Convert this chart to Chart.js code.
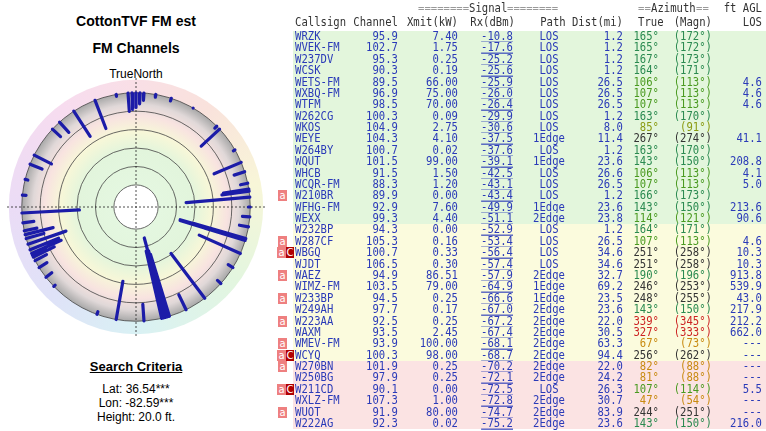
<!DOCTYPE html>
<html>
<head>
<meta charset="utf-8">
<script src="https://cdn.jsdelivr.net/npm/chart.js@4/dist/chart.umd.min.js"></script>
<style>
  body { margin: 0; width: 766px; height: 431px; overflow: hidden; background: #fff; position: relative; font-family: "Liberation Sans", Arial, sans-serif; }
  .t { position: absolute; left: 0; width: 272px; text-align: center; color: #000; }
  .b { font-weight: bold; font-size: 14px; }
  .s { font-size: 12px; }
  #wrap { position: absolute; left: 7px; top: 78px; width: 258px; height: 258px; }
  #tbl { position: absolute; left: 0; top: 0; width: 766px; height: 431px; font-family: "DejaVu Sans Mono", monospace; font-size: 10.6px; }
  .c { position: absolute; white-space: pre; line-height: 12px; transform: scaleY(1.12); }
  .row { position: absolute; left: 293px; width: 473px; height: 11.4px; }
  .badge { position: absolute; font-size: 10px; line-height: 11px; height: 11px; color: #fff; text-align: center; font-family: "DejaVu Sans", sans-serif; }
</style>
</head>
<body>
<div class="t b" style="top:13px">CottonTVF FM est</div>
<div class="t b" style="top:40px">FM Channels</div>
<div class="t s" style="top:67px">TrueNorth</div>
<div class="t s" style="top:79px;color:#b00000">N</div>
<div id="wrap"><canvas id="polar"></canvas></div>
<div class="t b" style="top:359px;font-size:13px"><u>Search Criteria</u></div>
<div class="t s" style="top:382px">Lat: 36.54***</div>
<div class="t s" style="top:396px">Lon: -82.59***</div>
<div class="t s" style="top:410px">Height: 20.0 ft.</div>
<div id="tbl"></div>
<script>
const callsigns = ['WRZK','WVEK-FM','W237DV','WCSK','WETS-FM','WXBQ-FM','WTFM','W262CG','WKOS','WEYE','W264BY','WQUT','WHCB','WCQR-FM','W210BR','WFHG-FM','WEXX','W232BP','W287CF','WBGQ','WJDT','WAEZ','WIMZ-FM','W233BP','W249AH','W223AA','WAXM','WMEV-FM','WCYQ','W270BN','W250BG','W211CD','WXLZ-FM','WUOT','W222AG'];
const channels = ['95.9','102.7','95.3','90.3','89.5','96.9','98.5','100.3','104.9','104.3','100.7','101.5','91.5','88.3','89.9','92.9','99.3','94.3','105.3','100.7','106.5','94.9','103.5','94.5','97.7','92.5','93.5','93.9','100.3','101.9','97.9','90.1','107.3','91.9','92.3'];
const xmitKw = ['7.40','1.75','0.25','0.19','66.00','75.00','70.00','0.09','2.75','4.10','0.02','99.00','1.50','1.20','0.00','7.60','4.40','0.00','0.16','0.33','0.30','86.51','79.00','0.25','0.17','0.25','2.45','100.00','98.00','0.25','0.25','0.00','1.00','80.00','0.02'];
const rxDbm = [-10.8,-17.6,-25.2,-25.6,-25.9,-26.0,-26.4,-29.9,-30.6,-37.5,-37.6,-39.1,-42.5,-43.1,-43.4,-49.9,-51.1,-52.9,-53.4,-56.4,-57.4,-57.9,-64.9,-66.6,-67.0,-67.2,-67.4,-68.1,-68.7,-70.2,-72.1,-72.5,-72.8,-74.7,-75.2];
const paths = ['LOS','LOS','LOS','LOS','LOS','LOS','LOS','LOS','LOS','1Edge','LOS','1Edge','LOS','LOS','LOS','1Edge','2Edge','LOS','LOS','LOS','LOS','2Edge','1Edge','1Edge','2Edge','2Edge','2Edge','2Edge','2Edge','2Edge','2Edge','LOS','2Edge','2Edge','2Edge'];
const distMi = ['1.2','1.2','1.2','1.2','26.5','26.5','26.5','1.2','8.0','11.4','1.2','23.6','26.6','26.5','1.2','23.6','23.8','1.2','26.5','34.6','34.6','32.7','69.2','23.5','23.6','22.0','30.5','63.3','94.4','22.0','24.2','26.3','30.7','83.9','23.6'];
const azTrue = [165,165,167,164,106,107,107,163,85,267,163,143,106,107,166,143,114,164,107,251,251,190,246,248,143,339,327,67,256,82,81,107,47,244,143];
const azMagn = [172,172,173,171,113,113,113,170,91,274,170,150,113,113,173,150,121,171,113,258,258,196,253,255,150,345,333,73,262,88,88,114,54,251,150];
const losFt = ['','','','','4.6','4.6','4.6','','','41.1','','208.8','4.1','5.0','','213.6','90.6','','4.6','10.3','10.3','913.8','539.9','43.0','217.9','212.2','662.0','---','---','---','---','5.5','---','---','216.0'];
const badges = ['','','','','','','','','','','','','','','a','','','','a','aC','','a','','a','','a','','a','aC','a','','aC','','a',''];
// stations further down the list (below the visible table)
const moreAz = [356,358,0,2,4,10,18,350,318,313,297,292,284,276,262,258,254,251,248,245,242,238,232,226,200,176,154,132,122,100,95,90,78,72,60,45,30];
const moreRx = [-80,-82,-84,-88,-92,-97,-97,-98,-85,-88,-79,-86,-97,-96,-88,-86,-80,-82,-78,-84,-86,-90,-92,-98,-97,-82,-82,-95,-94,-90,-92,-98,-92,-88,-98,-97,-100];

const rowColor = i => i < 17 ? '#e3f6dc' : (i < 29 ? '#fbfbdd' : '#fbe3e3');
function azColor(a) {
  if (a >= 300) return '#cc2222';
  if (a >= 200) return '#333333';
  if (a < 84) return '#c88a10';
  if (a < 100) return '#8a9a10';
  if (a < 125) return '#4a9a20';
  return '#2a8a50';
}

const tbl = document.getElementById('tbl');
function cell(txt, x, y, align, color, extra) {
  const d = document.createElement('div');
  d.className = 'c';
  d.textContent = txt;
  d.style.top = y + 'px';
  if (align === 'r') d.style.right = (766 - x) + 'px';
  else if (align === 'c') { d.style.left = (x - 40) + 'px'; d.style.width = '80px'; d.style.textAlign = 'center'; }
  else d.style.left = x + 'px';
  d.style.color = color;
  if (extra) Object.assign(d.style, extra);
  tbl.appendChild(d);
}
cell('========', 418, 2, 'l', '#999');
cell('Signal', 469, 2, 'l', '#333');
cell('========', 507, 2, 'l', '#999');
cell('==', 638, 2, 'l', '#999');
cell('Azimuth', 651, 2, 'l', '#333');
cell('==', 696, 2, 'l', '#999');
cell('ft AGL', 762, 2, 'r', '#333');
const hy = 16;
cell('Callsign', 295, hy, 'l', '#333');
cell('Channel', 398, hy, 'r', '#333');
cell('Xmit(kW)', 458, hy, 'r', '#333');
cell('Rx(dBm)', 515, hy, 'r', '#333');
cell('Path', 553, hy, 'c', '#333');
cell('Dist(mi)', 623, hy, 'r', '#333');
cell('True', 638, hy, 'l', '#333');
cell('(Magn)', 712, hy, 'r', '#333');
cell('LOS', 762, hy, 'r', '#333');

callsigns.forEach((cs, i) => {
  const y = 30 + i * 11.38;
  const r = document.createElement('div');
  r.className = 'row';
  r.style.top = (y + 1) + 'px';
  r.style.background = rowColor(i);
  tbl.appendChild(r);
  const blue = '#2a3ab8';
  cell(cs, 295, y, 'l', blue);
  cell(channels[i], 398, y, 'r', blue);
  cell(xmitKw[i], 458, y, 'r', blue);
  cell(rxDbm[i].toFixed(1), 513, y, 'r', blue, { textDecoration: 'underline' });
  cell(paths[i], 549, y, 'c', blue);
  cell(distMi[i], 623, y, 'r', blue);
  const ac = azColor(azTrue[i]);
  cell(azTrue[i] + '\u00b0', 659, y, 'r', ac);
  cell('(' + azMagn[i] + '\u00b0)', 712, y, 'r', ac);
  cell(losFt[i], 762, y, 'r', blue);
  if (badges[i]) {
    const a = document.createElement('div');
    a.className = 'badge';
    a.textContent = 'a';
    a.style.left = (badges[i] === 'aC' ? 277 : 278) + 'px';
    a.style.top = (y + 1) + 'px';
    a.style.width = '9px';
    a.style.background = '#ee8080';
    tbl.appendChild(a);
    if (badges[i] === 'aC') {
      const c = document.createElement('div');
      c.className = 'badge';
      c.textContent = 'C';
      c.style.left = '286px';
      c.style.top = (y + 1) + 'px';
      c.style.width = '8px';
      c.style.background = '#b00000';
      tbl.appendChild(c);
    }
  }
});

/* POLAR: radius = hole + |Rx| */
const HOLE = 24, EDGE = 124, RING = 138;
const segs = [];
const allAz = azTrue.concat(moreAz);
const allRx = rxDbm.concat(moreRx);
allAz.forEach((az, i) => {
  const t = az * Math.PI / 180;
  const rIn = HOLE + Math.abs(allRx[i]);
  segs.push({ x: EDGE * Math.sin(t), y: EDGE * Math.cos(t) });
  segs.push({ x: rIn * Math.sin(t), y: rIn * Math.cos(t) });
  segs.push({ x: null, y: null });
});

const backdrop = {
  id: 'backdrop',
  beforeDatasetsDraw(chart) {
    const { ctx, scales: { x, y } } = chart;
    const cx = x.getPixelForValue(0), cy = y.getPixelForValue(0);
    const u = v => Math.abs(x.getPixelForValue(v) - cx);
    ctx.save();
    const cg = ctx.createConicGradient(-Math.PI / 2, cx, cy);
    [[0, '#f9dfe6'], [0.1, '#f9e2dc'], [0.22, '#f8f6d8'], [0.35, '#e3f6df'], [0.5, '#d9f1f4'], [0.62, '#dfe2f8'], [0.75, '#ebdcf6'], [0.9, '#f7dcef'], [1, '#f9dfe6']]
      .forEach(s => cg.addColorStop(s[0], s[1]));
    ctx.fillStyle = cg;
    ctx.beginPath(); ctx.arc(cx, cy, u(RING), 0, Math.PI * 2); ctx.fill();
    const rg = ctx.createRadialGradient(cx, cy, 0, cx, cy, u(EDGE));
    [[0, '#ffffff'], [0.2, '#e4f7e0'], [0.5, '#e2f5dc'], [0.66, '#f7f7d8'], [0.8, '#f8e3e0'], [0.9, '#e0d8d8'], [1, '#a8a8a8']]
      .forEach(s => rg.addColorStop(s[0], s[1]));
    ctx.fillStyle = rg;
    ctx.beginPath(); ctx.arc(cx, cy, u(EDGE), 0, Math.PI * 2); ctx.fill();
    ctx.fillStyle = '#fff';
    ctx.beginPath(); ctx.arc(cx, cy, u(HOLE), 0, Math.PI * 2); ctx.fill();
    ctx.strokeStyle = '#444';
    ctx.lineWidth = 0.8;
    for (let r = HOLE; r <= EDGE; r += 20) {
      ctx.beginPath(); ctx.arc(cx, cy, u(r), 0, Math.PI * 2); ctx.stroke();
    }
    ctx.setLineDash([2, 2]);
    ctx.strokeStyle = '#222';
    ctx.beginPath();
    ctx.moveTo(chart.chartArea.left, cy); ctx.lineTo(chart.chartArea.right, cy);
    ctx.moveTo(cx, chart.chartArea.top); ctx.lineTo(cx, chart.chartArea.bottom);
    ctx.stroke();
    ctx.restore();
  }
};

new Chart(document.getElementById('polar'), {
  type: 'scatter',
  data: {
    datasets: [{
      data: segs,
      showLine: true,
      spanGaps: false,
      borderColor: '#1c1ca8',
      borderWidth: 3.2,
      borderCapStyle: 'round',
      pointRadius: 0,
    }],
  },
  options: {
    responsive: true,
    maintainAspectRatio: false,
    animation: false,
    layout: { padding: 0 },
    plugins: { legend: { display: false }, tooltip: { enabled: false } },
    scales: {
      x: { type: 'linear', min: -140, max: 140, display: false },
      y: { type: 'linear', min: -140, max: 140, display: false },
    },
  },
  plugins: [backdrop],
});
</script>
</body>
</html>
